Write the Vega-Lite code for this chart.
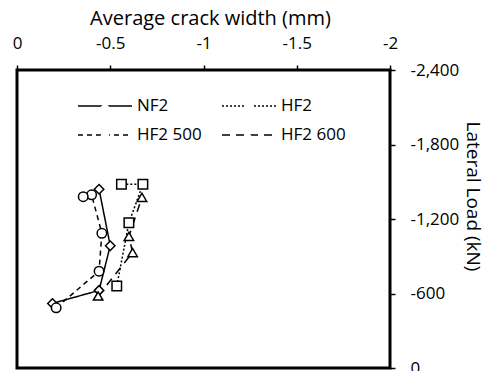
{
  "$schema": "https://vega.github.io/schema/vega-lite/v6.json",
  "width": 373,
  "height": 298,
  "autosize": {"type": "none"},
  "padding": {"left": 17, "top": 70, "right": 96, "bottom": 3},
  "background": "white",
  "data": {
    "values": [
      {"series": "NF2", "step": 1, "width": -0.19, "load": -520},
      {"series": "NF2", "step": 2, "width": -0.44, "load": -625},
      {"series": "NF2", "step": 3, "width": -0.50, "load": -985},
      {"series": "NF2", "step": 4, "width": -0.44, "load": -1440},
      {"series": "HF2 500", "step": 1, "width": -0.21, "load": -485},
      {"series": "HF2 500", "step": 2, "width": -0.44, "load": -780},
      {"series": "HF2 500", "step": 3, "width": -0.455, "load": -1085},
      {"series": "HF2 500", "step": 4, "width": -0.40, "load": -1395},
      {"series": "HF2 500", "step": 5, "width": -0.355, "load": -1380},
      {"series": "HF2", "step": 1, "width": -0.535, "load": -660},
      {"series": "HF2", "step": 2, "width": -0.60, "load": -1170},
      {"series": "HF2", "step": 3, "width": -0.675, "load": -1480},
      {"series": "HF2", "step": 4, "width": -0.56, "load": -1480},
      {"series": "HF2 600", "step": 1, "width": -0.435, "load": -580},
      {"series": "HF2 600", "step": 2, "width": -0.62, "load": -930},
      {"series": "HF2 600", "step": 3, "width": -0.60, "load": -1060},
      {"series": "HF2 600", "step": 4, "width": -0.67, "load": -1375}
    ]
  },
  "encoding": {
    "x": {
      "field": "width", "type": "quantitative",
      "scale": {"domain": [-2, 0], "reverse": true, "nice": false, "zero": false},
      "axis": {
        "orient": "top", "values": [0, -0.5, -1, -1.5, -2],
        "labelExpr": "replace(format(datum.value, '~g'), '\u2212', '-')",
        "title": "Average crack width (mm)", "titleFontSize": 20,
        "labelBaseline": "middle", "labelPadding": 22, "labelFlush": false,
        "titleX": 193, "titleY": -52, "titleAlign": "center", "titleBaseline": "middle"
      }
    },
    "y": {
      "field": "load", "type": "quantitative",
      "scale": {"domain": [-2400, 0], "reverse": true, "nice": false, "zero": false},
      "axis": {
        "orient": "right", "values": [0, -600, -1200, -1800, -2400],
        "labelExpr": "replace(format(datum.value, ','), '\u2212', '-')",
        "title": "Lateral Load (kN)", "titleFontSize": 19,
        "labelAlign": "left", "labelBaseline": "middle", "labelPadding": 15, "labelFlush": false,
        "titleAngle": 90, "titleX": 82, "titleY": 126, "titleAlign": "center", "titleBaseline": "middle"
      }
    }
  },
  "layer": [
    {
      "mark": {"type": "line", "color": "black", "strokeWidth": 1.5},
      "encoding": {
        "order": {"field": "step", "type": "quantitative"},
        "strokeDash": {
          "field": "series", "type": "nominal",
          "scale": {"domain": ["NF2", "HF2", "HF2 500", "HF2 600"], "range": [[1, 0], [2, 2], [5, 4], [8, 6]]},
          "legend": {
            "orient": "none", "direction": "horizontal", "legendX": 60, "legendY": 28, "columns": 2, "title": null,
            "symbolType": "stroke", "symbolSize": 2916, "symbolStrokeWidth": 1.5, "symbolStrokeColor": "black",
            "labelFontSize": 17, "labelOffset": 4, "labelColor": "black", "clipHeight": 16,
            "rowPadding": 12, "columnPadding": 19, "padding": 0
          }
        }
      }
    },
    {
      "mark": {"type": "point", "filled": false, "fill": "white", "fillOpacity": 1, "stroke": "black", "strokeWidth": 1.5, "size": 90, "opacity": 1},
      "encoding": {
        "shape": {
          "field": "series", "type": "nominal",
          "scale": {"domain": ["NF2", "HF2", "HF2 500", "HF2 600"], "range": ["diamond", "square", "circle", "triangle-up"]},
          "legend": {
            "orient": "top-left", "offset": 28, "direction": "horizontal", "columns": 2, "title": null,
            "symbolOffset": 51.5,
            "symbolSize": 70, "symbolStrokeWidth": 1.5, "symbolStrokeColor": "black", "symbolFillColor": "white",
            "symbolOpacity": 1,
            "labelFontSize": 17, "labelOffset": 0, "labelExpr": "''",
            "rowPadding": 11, "columnPadding": 75, "padding": 0,
            "encode": {"symbols": {"update": {"stroke": {"value": "red"}, "fill": {"value": "yellow"}, "strokeWidth": {"value": 2}}}}
          }
        }
      }
    }
  ],
  "config": {
    "font": "Open Sans",
    "view": {"stroke": "black", "strokeWidth": 3},
    "legend": {"symbolStrokeColor": "black", "symbolStrokeWidth": 1.5},
    "axis": {
      "grid": false, "domain": false, "tickColor": "black", "tickSize": 5, "tickWidth": 1.5,
      "labelColor": "black", "titleColor": "black", "labelFontSize": 17, "titleFontSize": 17, "titleFontWeight": "normal"
    }
  }
}
